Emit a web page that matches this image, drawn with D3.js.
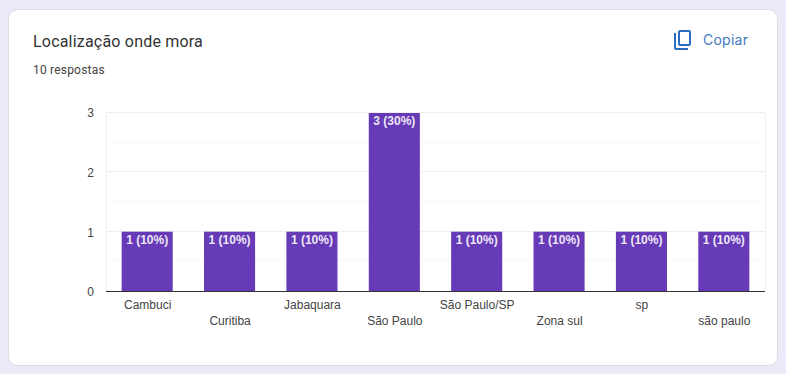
<!DOCTYPE html>
<html>
<head>
<meta charset="utf-8">
<script src="https://cdn.jsdelivr.net/npm/d3@7"></script>
<style>
    html, body { margin: 0; padding: 0; background: #ece9f8; overflow: hidden; }
</style>
</head>
<body>
<svg id="chart1"></svg>
<script>
const categories = ["Cambuci", "Curitiba", "Jabaquara", "São Paulo", "São Paulo/SP", "Zona sul", "sp", "são paulo"];
const counts = [1, 1, 1, 3, 1, 1, 1, 1];
const barLabels = ["1 (10%)", "1 (10%)", "1 (10%)", "3 (30%)", "1 (10%)", "1 (10%)", "1 (10%)", "1 (10%)"];
const majorTicks = [0, 1, 2, 3];
const minorTicks = [0.5, 1.5, 2.5];

const dimensions = { width: 786, height: 374, left: 106, right: 765, top: 113, bottom: 291 };

const svg = d3.select("#chart1")
    .attr("width", dimensions.width)
    .attr("height", dimensions.height)
    .style("display", "block");

// Card
svg.append("rect")
    .attr("x", 8.5).attr("y", 9.5)
    .attr("width", 769).attr("height", 356)
    .attr("rx", 9)
    .attr("fill", "#fff")
    .attr("stroke", "#dadce0");

// Header
svg.append("text")
    .attr("x", 33).attr("y", 47)
    .style("font-family", "Roboto")
    .style("font-size", "16px")
    .style("letter-spacing", "0.2px")
    .attr("fill", "#333")
    .text("Localização onde mora");

svg.append("text")
    .attr("x", 33).attr("y", 74)
    .style("font-family", "Roboto")
    .style("font-size", "12px")
    .style("letter-spacing", "0.2px")
    .attr("fill", "#444")
    .text("10 respostas");

// Copy icon
svg.append("path")
    .attr("transform", "translate(671,28)")
    .attr("fill", "#2a6cc0")
    .attr("d", "M3 5h2v15h12v2H5a2 2 0 0 1-2-2V5zm6-3h9a2 2 0 0 1 2 2v12a2 2 0 0 1-2 2H9a2 2 0 0 1-2-2V4a2 2 0 0 1 2-2zm0 2v12h9V4H9z");

svg.append("text")
    .attr("x", 703).attr("y", 45)
    .style("font-family", "Inter")
    .style("font-size", "14px")
    .style("font-weight", "400")
    .style("letter-spacing", "0.25px")
    .attr("fill", "#4279c2")
    .text("Copiar");

// Scales
const xScale = d3.scaleBand()
    .domain(categories)
    .range([dimensions.left, dimensions.right])
    .paddingInner(0.38)
    .paddingOuter(0.19);

const yScale = d3.scaleLinear()
    .domain([0, 3])
    .range([dimensions.bottom, dimensions.top]);

// Gridlines sit one pixel row above the bar tops
svg.append("g").selectAll("line")
    .data(minorTicks)
    .join("line")
    .attr("x1", dimensions.left).attr("x2", dimensions.right)
    .attr("y1", d => Math.round(yScale(d) - 1) + 0.5).attr("y2", d => Math.round(yScale(d) - 1) + 0.5)
    .attr("stroke", "#f8f8f8");

svg.append("g").selectAll("line")
    .data(majorTicks.slice(1))
    .join("line")
    .attr("x1", dimensions.left).attr("x2", dimensions.right)
    .attr("y1", d => Math.round(yScale(d) - 1) + 0.5).attr("y2", d => Math.round(yScale(d) - 1) + 0.5)
    .attr("stroke", "#efefef");

// Plot frame sides
[dimensions.left, dimensions.right].forEach(x => {
    svg.append("line")
        .attr("x1", x + 0.5).attr("x2", x + 0.5)
        .attr("y1", dimensions.top).attr("y2", dimensions.bottom)
        .attr("stroke", "#efefef");
});

// Bars
svg.append("g").selectAll("rect")
    .data(categories)
    .join("rect")
    .attr("x", d => xScale(d))
    .attr("y", (d, i) => yScale(counts[i]))
    .attr("width", xScale.bandwidth())
    .attr("height", (d, i) => yScale(0) - yScale(counts[i]))
    .attr("fill", "#673ab7");

// Bar labels
svg.append("g").selectAll("text")
    .data(categories)
    .join("text")
    .attr("x", d => xScale(d) + xScale.bandwidth() / 2)
    .attr("y", (d, i) => yScale(counts[i]) + 12)
    .attr("text-anchor", "middle")
    .style("font-family", "'Liberation Sans', Arial")
    .style("font-size", "12px")
    .style("font-weight", "bold")
    .attr("fill", "#ede7f6")
    .text((d, i) => barLabels[i]);

// Y axis
const yAxis = svg.append("g")
    .attr("transform", `translate(${dimensions.left},0)`)
    .call(d3.axisLeft(yScale).tickValues(majorTicks).tickFormat(d3.format("d")).tickSize(0).tickPadding(12));
yAxis.select(".domain").remove();
yAxis.selectAll("text")
    .attr("y", d => d < 2 ? 1 : 0)
    .style("font-family", "'Liberation Sans', Arial")
    .style("font-size", "12px")
    .attr("fill", "#444");

// X axis, labels staggered on two rows
const xAxis = svg.append("g")
    .attr("transform", `translate(0,${dimensions.bottom})`)
    .call(d3.axisBottom(xScale).tickSize(0).tickPadding(0));
xAxis.select(".domain").remove();
xAxis.selectAll("text")
    .attr("x", 0.5)
    .attr("y", (d, i) => i % 2 === 0 ? 18 : 34)
    .attr("dy", 0)
    .style("font-family", "'Liberation Sans', Arial")
    .style("font-size", "12px")
    .attr("fill", "#444");

// Baseline
svg.append("line")
    .attr("x1", dimensions.left).attr("x2", dimensions.right)
    .attr("y1", dimensions.bottom + 0.5).attr("y2", dimensions.bottom + 0.5)
    .attr("stroke", "#333");
</script>
</body>
</html>
